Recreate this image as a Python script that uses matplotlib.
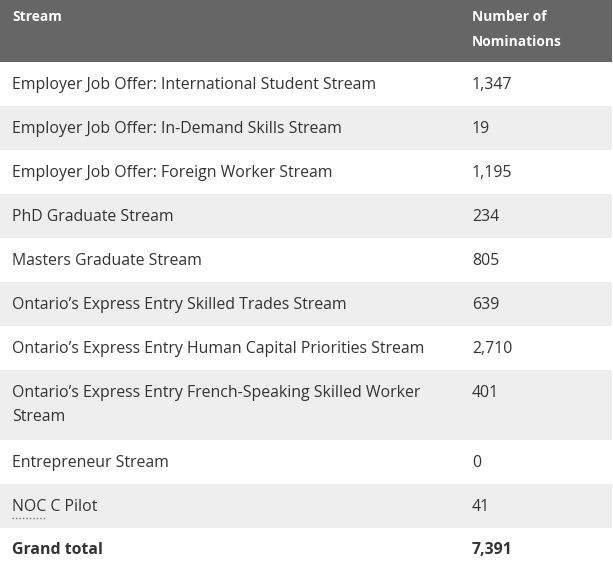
import matplotlib
matplotlib.use("Agg")
import matplotlib.pyplot as plt
from matplotlib.patches import Rectangle

plt.rcParams['font.family'] = ['Open Sans', 'DejaVu Sans']

# table content
header = ["Stream", "Number of\nNominations"]
streams = [
    "Employer Job Offer: International Student Stream",
    "Employer Job Offer: In-Demand Skills Stream",
    "Employer Job Offer: Foreign Worker Stream",
    "PhD Graduate Stream",
    "Masters Graduate Stream",
    "Ontario\u2019s Express Entry Skilled Trades Stream",
    "Ontario\u2019s Express Entry Human Capital Priorities Stream",
    "Ontario\u2019s Express Entry French-Speaking Skilled Worker\nStream",
    "Entrepreneur Stream",
    "NOC C Pilot",
]
nominations = [1347, 19, 1195, 234, 805, 639, 2710, 401, 0, 41]
total_label = "Grand total"
total_value = sum(nominations)  # 7,391

W, H = 613, 569
fig = plt.figure(figsize=(W / 100, H / 100), dpi=100)
ax = fig.add_axes([0, 0, 1, 1])
ax.set_xlim(0, W)
ax.set_ylim(H, 0)
ax.axis('off')

FS = 11.45
TXT = '#333333'
col_x = [12, 472]
line_h = 24


def put_lines(x, y0, text, step, **kw):
    # one text object per line so the vertical rhythm matches the page
    for k, line in enumerate(text.split('\n')):
        ax.text(x, y0 + k * step, line, va='center', ha='left', **kw)


# header
head_h = 62
ax.add_patch(Rectangle((0, 0), W - 1, head_h, color='#666666', lw=0))
for x, t in zip(col_x, header):
    put_lines(x, 16.5, t, 25, color='white', fontsize=9.9, fontweight='bold')

# body rows
y = head_h
rows = [(s, f"{n:,}") for s, n in zip(streams, nominations)]
rows.append((total_label, f"{total_value:,}"))
fig.canvas.draw()
r = fig.canvas.get_renderer()
for i, (label, val) in enumerate(rows):
    n_lines = label.count('\n') + 1
    h = 18 + 26 * n_lines
    if i % 2 == 1:
        ax.add_patch(Rectangle((0, y), W - 1, h, color='#eeeeee', lw=0))
    bold = 'bold' if label == total_label else 'normal'
    put_lines(col_x[0], y + 22.5, label, line_h, color=TXT, fontsize=FS,
              fontweight=bold)
    put_lines(col_x[1], y + 22.5, val, line_h, color=TXT, fontsize=FS,
              fontweight=bold)
    if label.startswith("NOC C"):
        # dotted underline under the "NOC" abbreviation
        probe = ax.text(col_x[0], y + 22, "NOC", fontsize=FS, va='center',
                        alpha=0)
        bb = probe.get_window_extent(renderer=r)
        x0, x1 = col_x[0], col_x[0] + bb.width - 1
        ax.plot([x0, x1], [y + 34, y + 34], color='#777777',
                lw=1, ls=(0, (1, 1.5)))
    y += h

fig.savefig('out.png', dpi=100)
